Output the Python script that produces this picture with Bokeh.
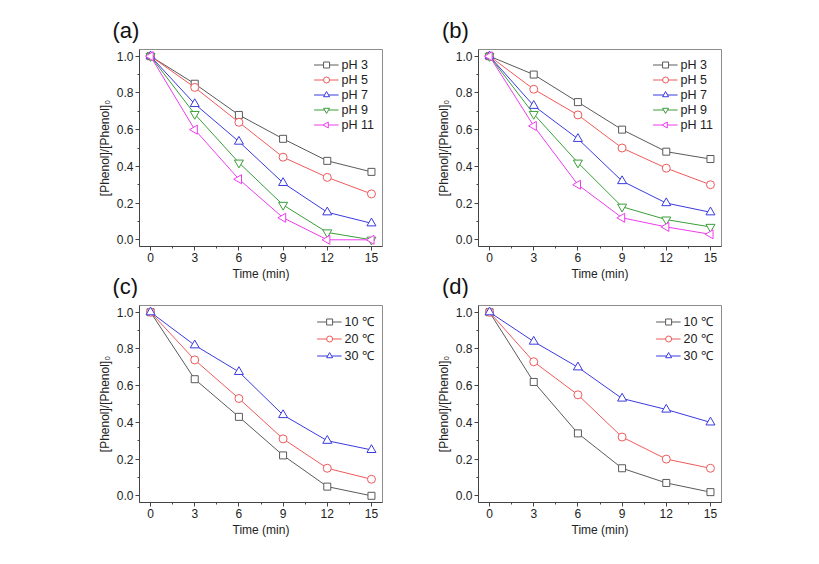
import math
from bokeh.plotting import figure
from bokeh.layouts import gridplot
from bokeh.models import (FixedTicker, PrintfTickFormatter, Legend, LegendItem, Range1d,
                          Label, CustomJS)
from bokeh.embed import file_html
from bokeh.resources import INLINE

# ---------------- data ----------------
time_min = [0, 3, 6, 9, 12, 15]

ph_labels = ["pH 3", "pH 5", "pH 7", "pH 9", "pH 11"]
temp_labels = ["10 ℃", "20 ℃", "30 ℃"]
panel_letters = ["(a)", "(b)", "(c)", "(d)"]

a_ph3 = [1.0, 0.85, 0.68, 0.55, 0.43, 0.37]
a_ph5 = [1.0, 0.83, 0.64, 0.45, 0.34, 0.25]
a_ph7 = [1.0, 0.74, 0.535, 0.31, 0.15, 0.09]
a_ph9 = [1.0, 0.685, 0.42, 0.19, 0.04, 0.0]
a_ph11 = [1.0, 0.60, 0.33, 0.12, 0.0, 0.0]

b_ph3 = [1.0, 0.90, 0.75, 0.60, 0.48, 0.44]
b_ph5 = [1.0, 0.82, 0.68, 0.50, 0.39, 0.30]
b_ph7 = [1.0, 0.73, 0.55, 0.32, 0.20, 0.15]
b_ph9 = [1.0, 0.685, 0.42, 0.18, 0.11, 0.07]
b_ph11 = [1.0, 0.62, 0.30, 0.12, 0.07, 0.03]

c_t10 = [1.0, 0.635, 0.43, 0.22, 0.05, 0.0]
c_t20 = [1.0, 0.74, 0.53, 0.31, 0.15, 0.09]
c_t30 = [1.0, 0.82, 0.675, 0.44, 0.30, 0.25]

d_t10 = [1.0, 0.62, 0.34, 0.15, 0.07, 0.02]
d_t20 = [1.0, 0.73, 0.55, 0.32, 0.20, 0.15]
d_t30 = [1.0, 0.84, 0.70, 0.53, 0.47, 0.40]

x_ticks = [0, 3, 6, 9, 12, 15]
x_minor = [1.5, 4.5, 7.5, 10.5, 13.5]
y_ticks = [0.0, 0.2, 0.4, 0.6, 0.8, 1.0]
y_minor = [0.1, 0.3, 0.5, 0.7, 0.9]

# ---------------- styles ----------------
FONT = "Liberation Sans"
ph_colors = ["#5a5a5a", "#ef5a5a", "#3a3ae0", "#3a9e3a", "#ee3cee"]
ph_markers = ["square", "circle", "triangle", "inverted_triangle", "@left_triangle"]
ph_sizes = [7, 8, 9, 9, 9]
t_colors = ["#5a5a5a", "#ef5a5a", "#3a3ae0"]
t_markers = ["square", "circle", "triangle"]
t_sizes = [7, 8, 9]

LEFT_TRIANGLE_JS = """
export default (args, obj, {ctx, i, r, visuals}) => {
  const h = r*Math.sqrt(3)
  const a = h/3
  ctx.beginPath()
  ctx.moveTo(a, -r)
  ctx.lineTo(a, r)
  ctx.lineTo(a - h, 0)
  ctx.closePath()
  visuals.fill.apply(ctx, i)
  visuals.line.apply(ctx, i)
}
"""

FRAME_W = 243
FRAME_H = 197
X0, X1 = -0.75, 15.75
Y0, Y1 = -0.0365, 1.0365
PX_X = FRAME_W / (X1 - X0)
PX_Y = FRAME_H / (Y1 - Y0)


def add_markers(p, ys, mk, sz, col):
    kw = dict(size=sz, line_color=col, fill_color="white", line_width=1)
    if mk.startswith("@"):
        try:
            return p.scatter(time_min, ys, marker=mk,
                             defs={mk: CustomJS(code=LEFT_TRIANGLE_JS)}, **kw)
        except Exception:
            return p.scatter(time_min, ys, marker="triangle", angle=math.pi / 2, **kw)
    return p.scatter(time_min, ys, marker=mk, **kw)


def make_panel(series, labels, colors, markers, sizes,
               bl, br, bt, bb, letter=None, letter_offset=0):
    p = figure(width=bl + FRAME_W + br, height=bt + FRAME_H + bb,
               output_backend="svg", toolbar_location=None,
               x_range=Range1d(X0, X1), y_range=Range1d(Y0, Y1),
               min_border_left=bl, min_border_right=br, min_border_top=bt, min_border_bottom=bb,
               background_fill_color="white", border_fill_color="white",
               outline_line_color="#8c8c8c", outline_line_width=1)
    if letter:
        p.title.text = letter
        p.title.align = "left"
        p.title.offset = letter_offset
        p.title.standoff = 14
        p.title.text_font = FONT
        p.title.text_font_size = "22px"
        p.title.text_font_style = "normal"
        p.title.text_color = "#111111"
    else:
        p.title.visible = False

    p.xgrid.visible = False
    p.ygrid.visible = False

    p.xaxis.ticker = FixedTicker(ticks=x_ticks, minor_ticks=x_minor)
    p.yaxis.ticker = FixedTicker(ticks=y_ticks, minor_ticks=y_minor)
    p.yaxis.formatter = PrintfTickFormatter(format="%.1f")
    p.xaxis.axis_label = "Time (min)"
    p.yaxis.axis_label = "[Phenol]/[Phenol]₀"
    for ax in (p.xaxis, p.yaxis):
        ax.axis_line_color = "#444444"
        ax.major_tick_line_color = "#444444"
        ax.minor_tick_line_color = "#444444"
        ax.major_tick_out = 4
        ax.major_tick_in = 0
        ax.minor_tick_out = 2
        ax.minor_tick_in = 0
        ax.major_label_text_font = FONT
        ax.major_label_text_font_size = "12px"
        ax.major_label_text_color = "#222222"
        ax.axis_label_text_font = FONT
        ax.axis_label_text_font_size = "12px"
        ax.axis_label_text_font_style = "normal"
        ax.axis_label_text_color = "#222222"
        ax.major_label_standoff = 2
        ax.axis_label_standoff = 2

    items = []
    for ys, lab, col, mk, sz in zip(series, labels, colors, markers, sizes):
        lr = p.line(time_min, ys, line_color=col, line_width=1)
        sr = add_markers(p, ys, mk, sz, col)
        items.append(LegendItem(label=lab, renderers=[lr, sr]))
    leg = Legend(items=items, location="top_right", margin=0, padding=8, spacing=0,
                 label_height=15, glyph_height=15, glyph_width=25, label_standoff=3,
                 border_line_alpha=0, background_fill_alpha=0,
                 label_text_font=FONT, label_text_font_size="12.5px",
                 label_text_color="#222222")
    p.add_layout(leg)
    return p


def lower_letter(text, dx_px):
    # letter of a lower panel, drawn in the space under an upper panel
    return Label(x=X0 + dx_px / PX_X, y=Y0 - 40 / PX_Y, x_units="data", y_units="data",
                 text=text, text_font=FONT, text_font_size="22px", text_color="#111111",
                 text_align="left", text_baseline="middle")


pa = make_panel([a_ph3, a_ph5, a_ph7, a_ph9, a_ph11], ph_labels, ph_colors,
                ph_markers, ph_sizes, 139, 48, 49, 52,
                letter=panel_letters[0], letter_offset=-27)
pb = make_panel([b_ph3, b_ph5, b_ph7, b_ph9, b_ph11], ph_labels, ph_colors,
                ph_markers, ph_sizes, 48, 40, 49, 52,
                letter=panel_letters[1], letter_offset=-36.5)
pc = make_panel([c_t10, c_t20, c_t30], temp_labels, t_colors,
                t_markers, t_sizes, 139, 48, 7, 48)
pd_ = make_panel([d_t10, d_t20, d_t30], temp_labels, t_colors,
                 t_markers, t_sizes, 48, 40, 7, 48)

# side-panel labels are not clipped to the plot frame
pa.add_layout(lower_letter(panel_letters[2], -27), "left")
pb.add_layout(lower_letter(panel_letters[3], -36.5), "right")

grid = gridplot([[pa, pb], [pc, pd_]], toolbar_location=None)

open("out.html", "w").write(file_html(grid, INLINE))
